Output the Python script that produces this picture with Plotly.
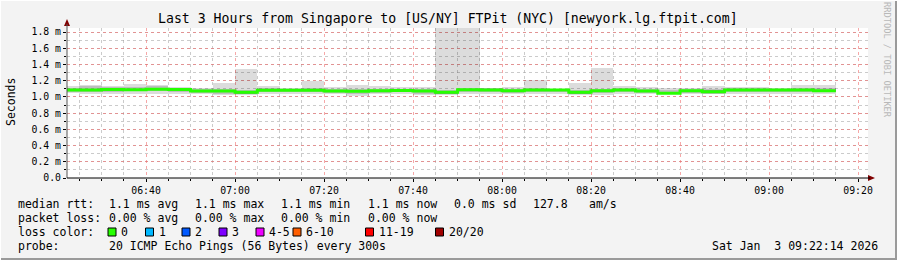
import plotly.graph_objects as go
import pandas as pd

# ---------------- data (values in ms) ----------------
step_end = pd.date_range("2026-01-03 06:25", periods=35, freq="5min")

rtt_median = [1.085, 1.085, 1.090, 1.089, 1.094, 1.090, 1.073, 1.073, 1.057, 1.081,
              1.081, 1.081, 1.073, 1.070, 1.075, 1.080, 1.073, 1.057, 1.089, 1.085,
              1.076, 1.085, 1.085, 1.057, 1.076, 1.085, 1.073, 1.045, 1.076, 1.064,
              1.085, 1.085, 1.085, 1.085, 1.076]
rtt_max = [1.13, 1.15, 1.13, 1.16, 1.15, 1.12, 1.11, 1.17, 1.34, 1.13,
           1.11, 1.20, 1.12, 1.15, 1.13, 1.12, 1.12, 2.10, 2.05, 1.11,
           1.12, 1.21, 1.10, 1.17, 1.36, 1.13, 1.12, 1.11, 1.11, 1.13,
           1.12, 1.12, 1.11, 1.15, 1.15]
rtt_min = [1.05, 1.04, 1.03, 1.04, 1.04, 1.03, 1.04, 1.02, 1.02, 1.03,
           1.04, 1.04, 1.03, 1.01, 1.03, 1.04, 1.02, 1.02, 1.04, 1.04,
           1.03, 1.03, 1.04, 1.02, 1.02, 1.04, 1.03, 1.03, 1.04, 1.03,
           1.04, 1.04, 1.04, 1.03, 1.03]
mid_hi = [1.11, 1.13, 1.12, 1.12, 1.13, 1.11, 1.10, 1.10, 1.09, 1.11,
          1.10, 1.11, 1.10, 1.10, 1.10, 1.10, 1.10, 1.09, 1.11, 1.11,
          1.10, 1.11, 1.10, 1.09, 1.10, 1.11, 1.10, 1.09, 1.10, 1.10,
          1.11, 1.11, 1.10, 1.11, 1.11]
mid_lo = [1.06, 1.06, 1.06, 1.07, 1.07, 1.06, 1.05, 1.04, 1.04, 1.06,
          1.06, 1.06, 1.05, 1.04, 1.05, 1.06, 1.04, 1.04, 1.06, 1.06,
          1.05, 1.06, 1.06, 1.04, 1.05, 1.06, 1.05, 1.03, 1.05, 1.04,
          1.06, 1.06, 1.06, 1.06, 1.06]
inner_hi = [1.10, 1.10, 1.10, 1.10, 1.11, 1.10, 1.09, 1.09, 1.07, 1.09,
            1.09, 1.09, 1.09, 1.08, 1.09, 1.09, 1.09, 1.07, 1.10, 1.10,
            1.09, 1.10, 1.10, 1.07, 1.09, 1.10, 1.09, 1.06, 1.09, 1.08,
            1.10, 1.10, 1.10, 1.10, 1.09]
inner_lo = [1.07, 1.07, 1.08, 1.08, 1.08, 1.08, 1.06, 1.06, 1.04, 1.07,
            1.07, 1.07, 1.06, 1.06, 1.06, 1.07, 1.06, 1.04, 1.08, 1.07,
            1.06, 1.07, 1.07, 1.04, 1.06, 1.07, 1.06, 1.03, 1.06, 1.05,
            1.07, 1.07, 1.07, 1.07, 1.06]

y_tick_vals = [0.0, 0.2, 0.4, 0.6, 0.8, 1.0, 1.2, 1.4, 1.6, 1.8]
y_tick_text = ["0.0", "0.2 m", "0.4 m", "0.6 m", "0.8 m", "1.0 m", "1.2 m", "1.4 m", "1.6 m", "1.8 m"]

loss_labels = ["0", "1", "2", "3", "4-5", "6-10", "11-19", "20/20"]
loss_colors = ["#26ff00", "#00b8ff", "#0059ff", "#7e00ff", "#ee00ff", "#ff5e00", "#ff0000", "#a00000"]

title = "Last 3 Hours from Singapore to [US/NY] FTPit (NYC) [newyork.lg.ftpit.com]"
row_rtt = ["median rtt:", "1.1 ms avg", "1.1 ms max", "1.1 ms min", "1.1 ms now", "0.0 ms sd", "127.8", "am/s"]
row_loss = ["packet loss:", "0.00 % avg", "0.00 % max", "0.00 % min", "0.00 % now"]
probe_text = ["probe:", "20 ICMP Echo Pings (56 Bytes) every 300s"]
date_text = "Sat Jan  3 09:22:14 2026"

# ---------------- geometry helpers ----------------
W, H = 897, 260
L, R, T, B = 67, 868, 28, 178
PW, PH = R - L, B - T
FONT = "DejaVu Sans Mono"


def px(x):
    return (x - L) / PW


def py(y):
    return (B - y) / PH


step_ms = 300000
centers = [t - pd.Timedelta(seconds=150) for t in step_end]

fig = go.Figure()


def band(lo, hi, color):
    fig.add_trace(go.Bar(
        x=centers, y=[h - l for h, l in zip(hi, lo)], base=lo,
        width=step_ms, marker=dict(color=color, line=dict(width=0)),
        hoverinfo="skip", showlegend=False))


band(rtt_min, rtt_max, "rgba(0,0,0,0.137)")
band(mid_lo, mid_hi, "rgba(0,0,0,0.14)")
band(inner_lo, inner_hi, "rgba(0,0,0,0.24)")

line_x = [t - pd.Timedelta(minutes=5) for t in step_end] + [step_end[-1]]
line_y = rtt_median + [rtt_median[-1]]
fig.add_trace(go.Scatter(x=line_x, y=line_y, mode="lines", line=dict(color=loss_colors[0], width=3, shape="hv"),
                         hoverinfo="skip", showlegend=False))

annotations = []
shapes = []

annotations.append(dict(text=title, x=px(448), y=py(19), xref="paper", yref="paper", showarrow=False,
                        xanchor="center", yanchor="middle", font=dict(family=FONT, size=13.2, color="#000")))
annotations.append(dict(text="Seconds", x=px(11), y=py(102), xref="paper", yref="paper", showarrow=False,
                        textangle=-90, xanchor="center", yanchor="middle", font=dict(family=FONT, size=11.5, color="#000")))
annotations.append(dict(text="RRDTOOL / TOBI OETIKER", x=px(887), y=py(60), xref="paper", yref="paper",
                        showarrow=False, textangle=90, xanchor="center", yanchor="middle",
                        font=dict(family=FONT, size=8.7, color="#b8b8b8")))


def txt(s, x, y, anchor="left"):
    annotations.append(dict(text=s.replace(" ", "&nbsp;"), x=px(x), y=py(y), xref="paper", yref="paper",
                            showarrow=False, xanchor=anchor, yanchor="middle",
                            font=dict(family=FONT, size=11.5, color="#000")))


rtt_x = [16, 107, 193, 279, 366, 452, 531, 587]
for s, x in zip(row_rtt, rtt_x):
    txt(s, x, 204)
for s, x in zip(row_loss, rtt_x):
    txt(s, x, 218)
txt("loss color:", 16, 232)
box_x = [108, 145.5, 182, 219, 256, 293, 365.5, 435.5]
for lab, col, bx in zip(loss_labels, loss_colors, box_x):
    shapes.append(dict(type="rect", xref="paper", yref="paper", x0=px(bx), x1=px(bx + 8), y0=py(236), y1=py(228),
                       fillcolor=col, line=dict(color="#000", width=1)))
    txt(lab, bx + 11, 232)
txt(probe_text[0], 16, 246)
txt(probe_text[1], 107, 246)
txt(date_text, 880, 246, anchor="right")

# axis arrows
shapes.append(dict(type="path", xref="paper", yref="paper",
                   path=f"M {px(64)} {py(26)} L {px(70)} {py(26)} L {px(67)} {py(19)} Z",
                   fillcolor="#800000", line=dict(color="#800000", width=0)))
shapes.append(dict(type="path", xref="paper", yref="paper",
                   path=f"M {px(868)} {py(175)} L {px(868)} {py(181)} L {px(875)} {py(178)} Z",
                   fillcolor="#800000", line=dict(color="#800000", width=0)))
shapes.append(dict(type="line", xref="paper", yref="paper", x0=px(67), x1=px(67), y0=py(178), y1=py(24),
                   line=dict(color="#555", width=1)))
shapes.append(dict(type="line", xref="paper", yref="paper", x0=px(67), x1=px(870), y0=py(178), y1=py(178),
                   line=dict(color="#000", width=1)))
# frame
shapes.append(dict(type="line", xref="paper", yref="paper", x0=px(0), x1=px(897), y0=py(259), y1=py(259),
                   line=dict(color="#9a9a9a", width=2)))
shapes.append(dict(type="line", xref="paper", yref="paper", x0=px(896), x1=px(896), y0=py(0), y1=py(260),
                   line=dict(color="#9a9a9a", width=2)))
shapes.append(dict(type="line", xref="paper", yref="paper", x0=px(0), x1=px(897), y0=py(0.5), y1=py(0.5),
                   line=dict(color="#ffffff", width=1)))
shapes.append(dict(type="line", xref="paper", yref="paper", x0=px(0.5), x1=px(0.5), y0=py(0), y1=py(260),
                   line=dict(color="#ffffff", width=1)))

fig.update_layout(
    width=W, height=H,
    margin=dict(l=L, r=W - R, t=T, b=H - B, pad=0),
    paper_bgcolor="#f3f3f3", plot_bgcolor="#ffffff",
    barmode="overlay", bargap=0, showlegend=False,
    annotations=annotations, shapes=shapes,
    font=dict(family=FONT, size=9.8, color="#000"),
)
fig.update_xaxes(
    type="date", range=["2026-01-03 06:22:14", "2026-01-03 09:22:14"],
    tick0="2026-01-03 06:40", dtick=1200000, tickformat="%H:%M",
    showgrid=True, gridcolor="rgba(240,110,110,0.6)", griddash="dot", gridwidth=1,
    ticks="outside", ticklen=3, tickcolor="#000", showline=False, zeroline=False,
    tickfont=dict(family=FONT, size=9.8, color="#000"),
    minor=dict(dtick=300000, tick0="2026-01-03 06:40", showgrid=True, gridcolor="rgba(160,160,160,0.55)",
               griddash="dot", ticks="outside", ticklen=2, tickcolor="#000"),
    fixedrange=True,
)
fig.update_yaxes(
    range=[0, 1.8496], tickmode="array", tickvals=y_tick_vals, ticktext=y_tick_text,
    showgrid=True, gridcolor="rgba(240,110,110,0.6)", griddash="dot", gridwidth=1,
    ticks="outside", ticklen=3, tickcolor="#000", showline=False, zeroline=False,
    tickfont=dict(family=FONT, size=9.8, color="#000"),
    minor=dict(tickmode="linear", tick0=0, dtick=0.1, showgrid=True, gridcolor="rgba(160,160,160,0.55)",
               griddash="dot", ticks="outside", ticklen=2, tickcolor="#000"),
    fixedrange=True,
)

fig.write_html("out.html")
